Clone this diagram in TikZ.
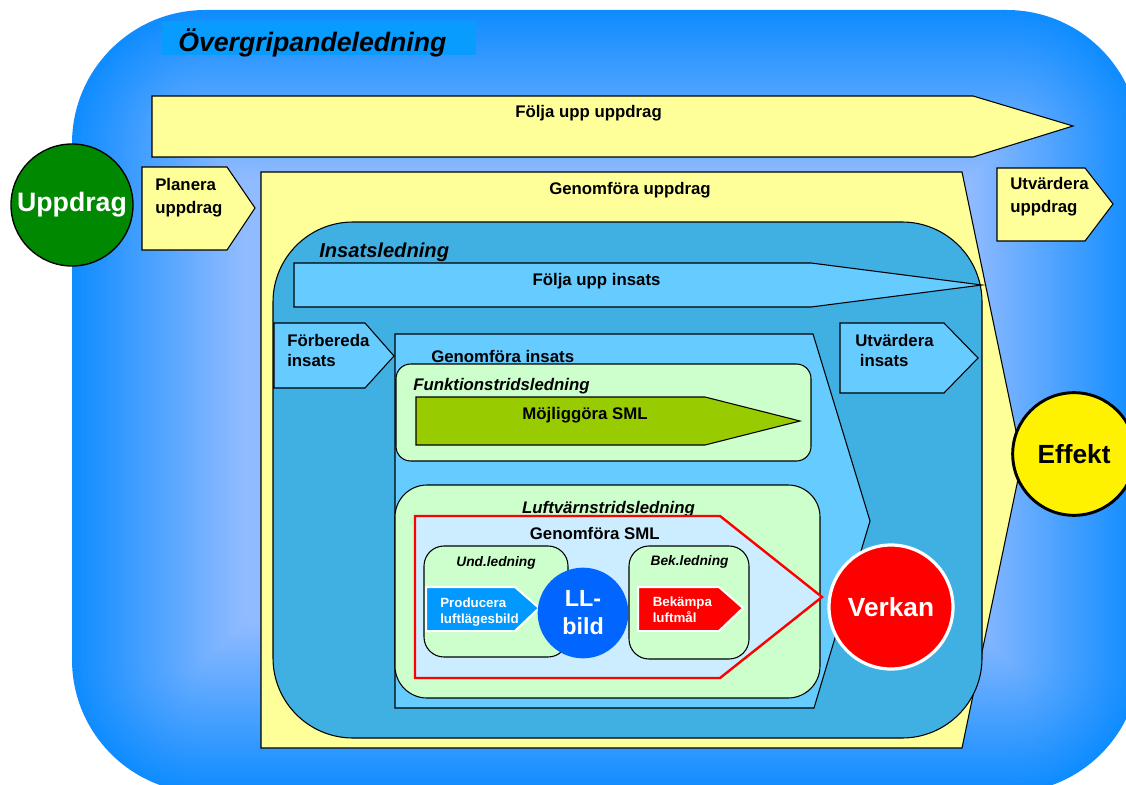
\documentclass[tikz,border=0pt]{standalone}
\usepackage{fontspec}
\setmainfont{Liberation Sans}
\definecolor{ogDark}{RGB}{15,140,255}
\definecolor{ogLight}{RGB}{145,187,255}
\definecolor{ogTitle}{RGB}{8,156,255}
\definecolor{pale}{RGB}{255,255,153}
\definecolor{insc}{RGB}{64,176,227}
\definecolor{skyc}{RGB}{102,204,255}
\definecolor{mintc}{RGB}{204,255,204}
\definecolor{olivec}{RGB}{153,204,0}
\definecolor{smlc}{RGB}{204,236,255}
\definecolor{prodc}{RGB}{0,153,255}
\definecolor{llc}{RGB}{0,102,255}
\definecolor{uppc}{RGB}{0,136,0}
\tikzset{
  shp/.style={draw=black, line width=0.8pt, line join=miter},
  lbl/.style={inner sep=0pt, font=\fontsize{12.6}{16}\selectfont\bfseries},
  lbli/.style={inner sep=0pt, font=\fontsize{12.6}{16}\selectfont\bfseries\itshape},
  lblsm/.style={inner sep=0pt, text=white, align=left, font=\fontsize{10}{12}\selectfont\bfseries},
  lblsmi/.style={inner sep=0pt, font=\fontsize{10.3}{12}\selectfont\bfseries\itshape},
  bigcirc/.style={circle, inner sep=0pt, font=\fontsize{19.7}{22}\selectfont\bfseries}
}
\begin{document}
\begin{tikzpicture}[x=0.75pt,y=-0.75pt]
\useasboundingbox (0,0) rectangle (1126,784);
\begin{scope}
\clip (0,0) rectangle (1126,784);
% outer contour gradient
\foreach \i in {0,...,57} {
  \pgfmathsetmacro\ins{\i*3}
  \pgfmathsetmacro\pc{\i*100/57}
  \pgfmathsetmacro\rr{max(100-\i*2.25,1)}
  \fill[ogLight!\pc!ogDark, rounded corners=\rr pt] (72+\ins,10+\ins) rectangle (1140-\ins,793-\ins);
}
\end{scope}
% title band
\fill[ogTitle] (162,21) rectangle (476,55);
\node[inner sep=0pt, anchor=base west, font=\fontsize{20}{24}\selectfont\bfseries\itshape] (overtitle) at (178,52) {Övergripandeledning};

% Folja upp uppdrag
\draw[shp, fill=pale] (152,96) -- (973,96) -- (1073,126) -- (973,157) -- (152,157) -- cycle;
\node[lbl, anchor=base] (foljauppdrag) at (588.5,118) {Följa upp uppdrag};

% Planera uppdrag
\draw[shp, fill=pale] (142,167) -- (227,167) -- (255,208) -- (227,250) -- (142,250) -- cycle;
\node[lbl, align=left, anchor=west, font=\fontsize{12.6}{16.9}\selectfont\bfseries] (planera) at (155,197.6) {Planera\\uppdrag};

% Genomfora uppdrag
\draw[shp, fill=pale] (261,172) -- (962,172) -- (1022,460) -- (962,748) -- (261,748) -- cycle;
\node[lbl, anchor=base] (genuppdrag) at (630,195) {Genomföra uppdrag};

% Utvardera uppdrag
\draw[shp, fill=pale] (997,168) -- (1085,168) -- (1113,204) -- (1085,241) -- (997,241) -- cycle;
\node[lbl, align=left, anchor=west, font=\fontsize{12.6}{17.2}\selectfont\bfseries] (utvuppdrag) at (1010,197.1) {Utvärdera\\uppdrag};

% Insatsledning
\draw[shp, fill=insc, rounded corners=60pt] (273,222) rectangle (982,738);
\node[inner sep=0pt, anchor=base west, font=\fontsize{15.1}{18}\selectfont\bfseries\itshape] (insatstitle) at (319,257) {Insatsledning};

% Folja upp insats
\draw[shp, fill=skyc] (294,263) -- (811,263) -- (982,285) -- (811,307) -- (294,307) -- cycle;
\node[lbl, anchor=base] (foljainsats) at (596.5,285) {Följa upp insats};

% Forbereda insats
\draw[shp, fill=skyc] (274,323) -- (365,323) -- (394,356) -- (365,388) -- (274,388) -- cycle;
\node[lbl, align=left, anchor=west, font=\fontsize{12.6}{15}\selectfont\bfseries] (forbereda) at (287,350.9) {Förbereda\\insats};

% Utvardera insats
\draw[shp, fill=skyc] (840,323) -- (944,323) -- (978,358) -- (944,393) -- (840,393) -- cycle;
\node[lbl, align=left, anchor=west, font=\fontsize{12.6}{15}\selectfont\bfseries] (utvinsats) at (855,350.9) {Utvärdera\\\ insats};

% Genomfora insats
\draw[shp, fill=skyc] (395,334) -- (813,334) -- (870,521) -- (814,708) -- (395,708) -- cycle;
\node[lbl, anchor=base west] (geninsats) at (431,362) {Genomföra insats};

% Funktionstridsledning
\draw[shp, fill=mintc, rounded corners=11pt] (396,364) rectangle (811,461);
\node[lbli, anchor=base west] (funktitle) at (413,390) {Funktionstridsledning};
\draw[shp, fill=olivec] (416,397) -- (705,397) -- (800,421) -- (705,445) -- (416,445) -- cycle;
\node[lbl, anchor=base] (mojliggora) at (585,419) {Möjliggöra SML};

% Luftvarnstridsledning
\draw[shp, fill=mintc, rounded corners=24pt] (395,485) rectangle (820,698);
\node[lbli, anchor=base] (lvtitle) at (608.5,513) {Luftvärnstridsledning};

% Genomfora SML
\draw[fill=smlc, draw=red, line width=1.8pt, line join=miter] (415,516) -- (720,516) -- (822,597) -- (720,678) -- (415,678) -- cycle;
\node[lbl, anchor=base] (gensml) at (594.7,539) {Genomföra SML};

% Und.ledning
\draw[shp, fill=mintc, rounded corners=15pt] (424,546) rectangle (568,657);
\node[lblsmi, anchor=base] (undtitle) at (496,566) {Und.ledning};
\draw[draw=white, line width=1.5pt, fill=prodc] (426,587) -- (515,587) -- (539,608) -- (515,631) -- (426,631) -- cycle;
\node[lblsm, anchor=west] (producera) at (440,611.6) {Producera\\luftlägesbild};

% Bek.ledning
\draw[shp, fill=mintc, rounded corners=15pt] (629,546) rectangle (749,659);
\node[lblsmi, anchor=base] (bektitle) at (689.6,565) {Bek.ledning};
\draw[draw=white, line width=1.5pt, fill=red] (638,587) -- (719,587) -- (743,608) -- (719,631) -- (638,631) -- cycle;
\node[lblsm, anchor=west] (bekampa) at (652.5,610.1) {Bekämpa\\luftmål};

% LL-bild
\node[bigcirc, fill=llc, text=white, minimum size=68pt, align=center, font=\fontsize{17.5}{21}\selectfont\bfseries] (llbild) at (583,613) {LL-\\bild};

% circles
\node[bigcirc, fill=red, draw=white, line width=2.4pt, text=white, minimum size=93pt] (verkan) at (891,607) {Verkan};
\node[bigcirc, fill=yellow, draw=black, line width=2.2pt, minimum size=92pt] (effekt) at (1074,454) {Effekt};
\node[bigcirc, fill=uppc, draw=black, line width=1pt, text=white, minimum size=91.5pt, font=\fontsize{20}{24}\selectfont\bfseries] (uppdrag) at (72,205) {Uppdrag};
\end{tikzpicture}
\end{document}
